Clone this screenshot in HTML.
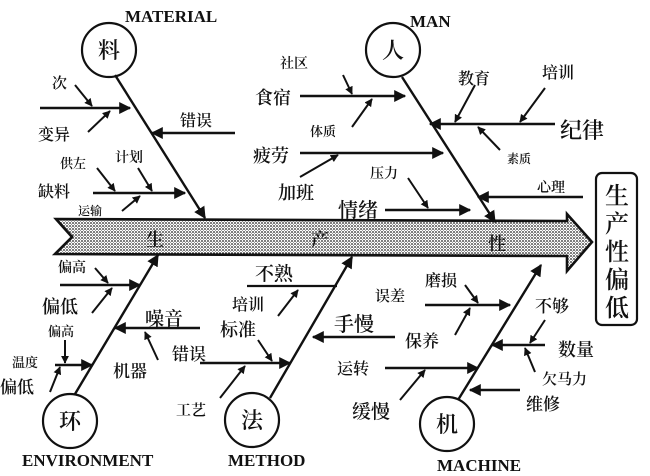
<!DOCTYPE html>
<html><head><meta charset="utf-8"><style>
html,body{margin:0;padding:0;background:#fff;}
svg{display:block;}
text{font-family:"Liberation Serif","Noto Serif CJK SC","Noto Sans CJK SC",serif;fill:#111;font-weight:600;}
.en{font-weight:bold;font-size:17px;font-family:"Liberation Serif",serif;}
</style></head><body>
<svg width="650" height="476" viewBox="0 0 650 476" xmlns="http://www.w3.org/2000/svg">
<defs>
<marker id="a" viewBox="0 0 10 10" refX="9" refY="5" markerWidth="8" markerHeight="8" orient="auto-start-reverse" markerUnits="userSpaceOnUse"><path d="M0,0 L10,5 L0,10 z" fill="#111"/></marker>
<marker id="b" viewBox="0 0 10 10" refX="9" refY="5" markerWidth="12" markerHeight="12" orient="auto" markerUnits="userSpaceOnUse"><path d="M0,0 L10,5 L0,10 z" fill="#111"/></marker>
<pattern id="dots" width="3" height="3" patternUnits="userSpaceOnUse"><rect width="3" height="3" fill="#fff"/><circle cx="1" cy="1" r="0.9" fill="#222"/><circle cx="2.5" cy="2.3" r="0.5" fill="#555"/></pattern>
</defs>
<g stroke="#111" fill="none" stroke-width="2.2">
<path d="M56,219 L567,221 L567,214 L592,242 L567,271 L567,256 L55,254 L72,237 Z" fill="url(#dots)" stroke-width="2.6"/>
<rect x="596" y="173" width="41" height="152" rx="6"/>
<circle cx="109" cy="50" r="27"/>
<circle cx="393" cy="50" r="27"/>
<circle cx="70" cy="421" r="27"/>
<circle cx="252" cy="420" r="27"/>
<circle cx="447" cy="424" r="27"/>
</g>
<g stroke="#111" stroke-width="2.4" fill="none" marker-end="url(#b)">
<line x1="115" y1="75" x2="205" y2="218"/>
<line x1="402" y1="77" x2="495" y2="222"/>
<line x1="75" y1="394" x2="158" y2="255"/>
<line x1="270" y1="398" x2="352" y2="257"/>
<line x1="458" y1="400" x2="541" y2="265"/>
<line x1="40" y1="108" x2="130" y2="108"/>
<line x1="235" y1="133" x2="152" y2="133"/>
<line x1="93" y1="193" x2="185" y2="193"/>
<line x1="300" y1="96" x2="405" y2="96"/>
<line x1="300" y1="153" x2="443" y2="153"/>
<line x1="385" y1="210" x2="470" y2="210"/>
<line x1="555" y1="124" x2="430" y2="124"/>
<line x1="583" y1="197" x2="478" y2="197"/>
<line x1="60" y1="285" x2="140" y2="285"/>
<line x1="55" y1="365" x2="92" y2="365"/>
<line x1="200" y1="328" x2="115" y2="328"/>
<line x1="200" y1="363" x2="290" y2="363"/>
<line x1="395" y1="337" x2="313" y2="337"/>
<line x1="425" y1="305" x2="510" y2="305"/>
<line x1="385" y1="368" x2="478" y2="368"/>
<line x1="545" y1="345" x2="492" y2="345"/>
<line x1="520" y1="390" x2="470" y2="390"/>
</g>
<line x1="247" y1="286" x2="337" y2="286" stroke="#111" stroke-width="2.2"/>
<g stroke="#111" stroke-width="2" fill="none" marker-end="url(#a)">
<line x1="75" y1="85" x2="92" y2="106"/>
<line x1="88" y1="132" x2="110" y2="111"/>
<line x1="97" y1="168" x2="115" y2="191"/>
<line x1="138" y1="168" x2="152" y2="191"/>
<line x1="122" y1="211" x2="140" y2="196"/>
<line x1="343" y1="75" x2="352" y2="94"/>
<line x1="352" y1="127" x2="372" y2="99"/>
<line x1="300" y1="177" x2="338" y2="155"/>
<line x1="408" y1="178" x2="428" y2="208"/>
<line x1="475" y1="85" x2="455" y2="122"/>
<line x1="545" y1="88" x2="520" y2="122"/>
<line x1="500" y1="150" x2="478" y2="127"/>
<line x1="95" y1="268" x2="108" y2="283"/>
<line x1="92" y1="313" x2="112" y2="288"/>
<line x1="65" y1="340" x2="65" y2="363"/>
<line x1="50" y1="392" x2="60" y2="367"/>
<line x1="158" y1="360" x2="145" y2="332"/>
<line x1="278" y1="316" x2="298" y2="290"/>
<line x1="258" y1="340" x2="272" y2="361"/>
<line x1="220" y1="398" x2="245" y2="366"/>
<line x1="465" y1="285" x2="478" y2="303"/>
<line x1="455" y1="335" x2="470" y2="308"/>
<line x1="400" y1="400" x2="425" y2="370"/>
<line x1="545" y1="320" x2="530" y2="343"/>
<line x1="535" y1="372" x2="525" y2="348"/>
</g>
<text class="en" x="125" y="22">MATERIAL</text>
<text class="en" x="410" y="27">MAN</text>
<text class="en" x="22" y="466">ENVIRONMENT</text>
<text class="en" x="228" y="466">METHOD</text>
<text class="en" x="437" y="471">MACHINE</text>
<g font-size="22" text-anchor="middle">
<text x="109" y="58">料</text>
<text x="393" y="58">人</text>
<text x="70" y="429">环</text>
<text x="252" y="428">法</text>
<text x="447" y="432">机</text>
<text x="155" y="246" font-size="18">生</text>
<text x="320" y="246" font-size="18">产</text>
<text x="497" y="250" font-size="18">性</text>
</g>
<g font-size="24" text-anchor="middle">
<text x="617" y="204">生</text>
<text x="617" y="232">产</text>
<text x="617" y="260">性</text>
<text x="617" y="288">偏</text>
<text x="617" y="316">低</text>
</g>
<g font-size="16">
<text x="52" y="88" font-size="15">次</text>
<text x="38" y="140">变异</text>
<text x="180" y="126">错误</text>
<text x="60" y="168" font-size="13">供左</text>
<text x="115" y="162" font-size="14">计划</text>
<text x="38" y="197">缺料</text>
<text x="78" y="215" font-size="12">运输</text>
<text x="280" y="68" font-size="14">社区</text>
<text x="255" y="104" font-size="18">食宿</text>
<text x="310" y="136" font-size="13">体质</text>
<text x="253" y="162" font-size="18">疲劳</text>
<text x="278" y="199" font-size="18">加班</text>
<text x="370" y="178" font-size="14">压力</text>
<text x="338" y="217" font-size="20">情绪</text>
<text x="458" y="84" font-size="16">教育</text>
<text x="542" y="78" font-size="16">培训</text>
<text x="560" y="138" font-size="22">纪律</text>
<text x="507" y="163" font-size="12">素质</text>
<text x="537" y="192" font-size="14">心理</text>
<text x="58" y="272" font-size="14">偏高</text>
<text x="42" y="313" font-size="18">偏低</text>
<text x="48" y="336" font-size="13">偏高</text>
<text x="12" y="367" font-size="13">温度</text>
<text x="0" y="393" font-size="17">偏低</text>
<text x="145" y="325" font-size="19">噪音</text>
<text x="113" y="377" font-size="17">机器</text>
<text x="255" y="280" font-size="19">不熟</text>
<text x="232" y="310" font-size="16">培训</text>
<text x="220" y="336" font-size="18">标准</text>
<text x="172" y="360" font-size="17">错误</text>
<text x="176" y="415" font-size="15">工艺</text>
<text x="334" y="331" font-size="20">手慢</text>
<text x="425" y="286" font-size="16">磨损</text>
<text x="375" y="301" font-size="15">误差</text>
<text x="405" y="347" font-size="17">保养</text>
<text x="337" y="374" font-size="16">运转</text>
<text x="352" y="418" font-size="19">缓慢</text>
<text x="535" y="312" font-size="17">不够</text>
<text x="558" y="356" font-size="18">数量</text>
<text x="542" y="384" font-size="15">欠马力</text>
<text x="526" y="410" font-size="17">维修</text>
</g>
</svg>
</body></html>
